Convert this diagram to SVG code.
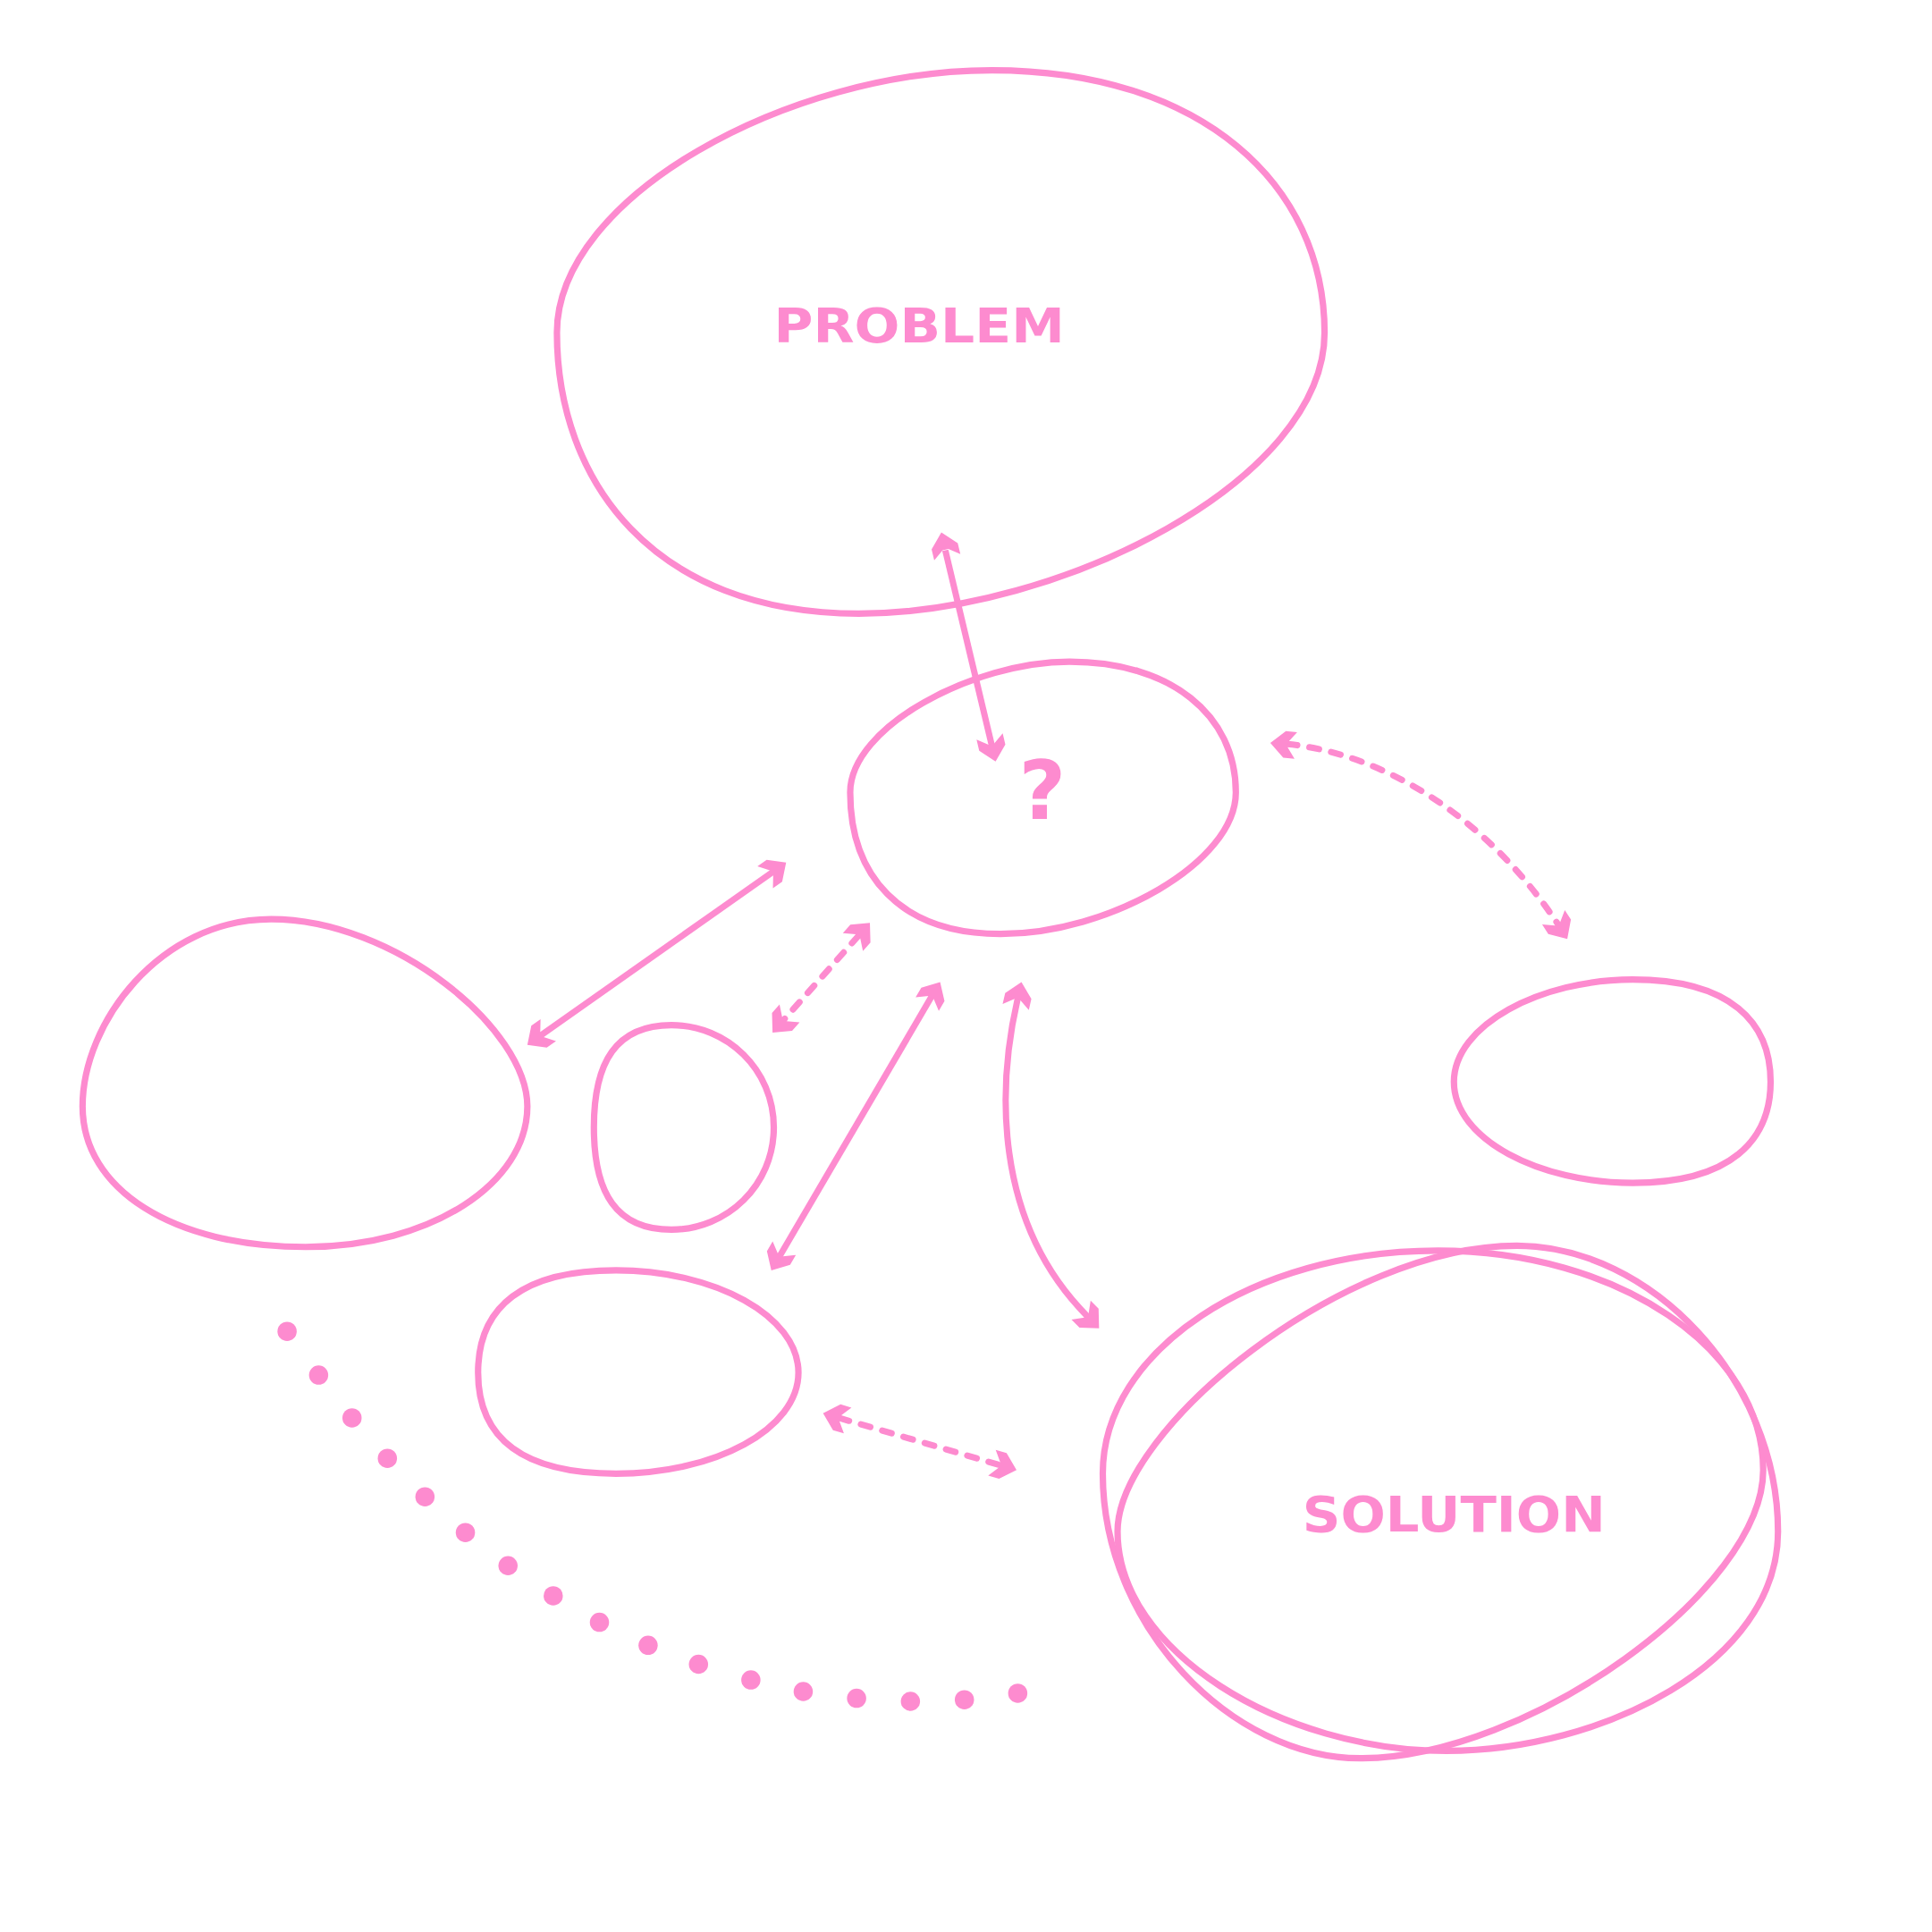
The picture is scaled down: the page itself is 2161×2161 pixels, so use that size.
<svg xmlns="http://www.w3.org/2000/svg" xmlns:xlink="http://www.w3.org/1999/xlink" width="2161" height="2161" viewBox="0 0 2161 2161">
<defs>
<style>
.blob{fill:none;stroke:#FD8BCF;stroke-width:5.2;stroke-linejoin:round}
.conn{fill:none;stroke:#FD8BCF;stroke-width:5.1}
.dash{stroke-dasharray:8 10;stroke-linecap:round}
.lbl{font-family:"DejaVu Sans","Liberation Sans",Arial,sans-serif;font-weight:bold;fill:#FD8BCF;text-anchor:middle}
.dot{fill:#FD8BCF}
.head{fill:#FD8BCF}
</style>
<path id="ah" class="head" d="M0,0 L-11.6,-10.9 L-20.8,-10.9 L-14.5,-2.4 L-14.5,2.4 L-20.8,10.9 L-11.6,10.9 Z"/>
</defs>
<rect width="2161" height="2161" fill="#ffffff"/>
<g transform="scale(1.37819)">
<g id="node-problem">
<path class="blob" d="M452,270 C452,160 640,57 805,57 C975,57 1075,150 1075,270 C1075,390 860,498 697,498 C530,498 452,390 452,270 Z"/>
<text class="lbl" x="746" y="278" font-size="39" textLength="236" lengthAdjust="spacingAndGlyphs">PROBLEM</text>
</g>
<g id="node-question">
<path class="blob" d="M690,643 C690,590 790,537 868,537 C950,537 1003,580 1003,643 C1003,700 900,758 812,758 C730,758 690,710 690,643 Z"/>
<text class="lbl" x="846" y="665" font-size="66">?</text>
</g>
<g id="node-left">
<path class="blob" d="M67,898 C67,830 130,746 220,746 C320,746 428,835 428,898 C428,960 350,1012 248,1012 C140,1012 67,965 67,898 Z"/>
</g>
<g id="node-small">
<path class="blob" d="M482,915 C482,862 500,832 545,832 C590,832 628,868 628,915 C628,962 590,998 545,998 C500,998 482,968 482,915 Z"/>
</g>
<g id="node-right">
<path class="blob" d="M1180,878 C1180,832 1250,795 1325,795 C1405,795 1437,830 1437,878 C1437,925 1405,960 1325,960 C1250,960 1180,925 1180,878 Z"/>
</g>
<g id="node-mid">
<path class="blob" d="M388,1114 C388,1060 425,1031 500,1031 C580,1031 648,1068 648,1114 C648,1160 580,1196 500,1196 C425,1196 388,1168 388,1114 Z"/>
</g>
<g id="node-solution">
<path class="blob" d="M895,1196 C895,1096 1017,1015 1167,1015 C1313,1015 1431,1095 1431,1193 C1431,1290 1240,1427 1104,1427 C1000,1427 895,1320 895,1196 Z"/>
<path class="blob" d="M1231,1011 C1340,1011 1443,1120 1443,1243 C1443,1350 1300,1421 1174,1421 C1040,1421 907,1340 907,1243 C907,1160 1090,1011 1231,1011 Z"/>
<text class="lbl" x="1180" y="1243" font-size="40" textLength="246" lengthAdjust="spacingAndGlyphs">SOLUTION</text>
</g>
<g id="connectors">
<g id="conn-problem-question">
<path class="conn" d="M767.2,446.6 L804.8,604.4"/>
<use href="#ah" xlink:href="#ah" transform="translate(764,432) rotate(-103.4)"/>
<use href="#ah" xlink:href="#ah" transform="translate(808,618) rotate(76.6)"/>
</g>
<g id="conn-question-right">
<path class="conn dash" d="M1044.9,603.9 C1125,612 1208,665 1264.5,750.2"/>
<use href="#ah" xlink:href="#ah" transform="translate(1031,603) rotate(185.7)"/>
<use href="#ah" xlink:href="#ah" transform="translate(1272,762) rotate(57.4)"/>
</g>
<g id="conn-question-left">
<path class="conn" d="M626.6,708.1 L439.4,839.9"/>
<use href="#ah" xlink:href="#ah" transform="translate(638,700) rotate(-35.2)"/>
<use href="#ah" xlink:href="#ah" transform="translate(428,848) rotate(144.8)"/>
</g>
<g id="conn-question-small">
<path class="conn dash" d="M696.7,759.5 L636.3,827.5"/>
<use href="#ah" xlink:href="#ah" transform="translate(706,749) rotate(-48.4)"/>
<use href="#ah" xlink:href="#ah" transform="translate(627,838) rotate(131.6)"/>
</g>
<g id="conn-question-mid">
<path class="conn" d="M755.9,809.1 L633.1,1018.9"/>
<use href="#ah" xlink:href="#ah" transform="translate(763,797) rotate(-59.7)"/>
<use href="#ah" xlink:href="#ah" transform="translate(626,1031) rotate(120.3)"/>
</g>
<g id="conn-question-solution">
<path class="conn" d="M825.9,810.7 C810,880 805,990 882.2,1068"/>
<use href="#ah" xlink:href="#ah" transform="translate(829,797) rotate(-77.1)"/>
<use href="#ah" xlink:href="#ah" transform="translate(892,1078) rotate(45.3)"/>
</g>
<g id="conn-mid-solution">
<path class="conn dash" d="M681.4,1150.9 L811.6,1189.1"/>
<use href="#ah" xlink:href="#ah" transform="translate(668,1147) rotate(196.3)"/>
<use href="#ah" xlink:href="#ah" transform="translate(825,1193) rotate(16.3)"/>
</g>
<g id="dotted-path">
<circle class="dot" cx="233" cy="1080.5" r="7.8"/>
<circle class="dot" cx="258.6" cy="1116" r="7.8"/>
<circle class="dot" cx="285.7" cy="1150.7" r="7.8"/>
<circle class="dot" cx="314.4" cy="1183.6" r="7.8"/>
<circle class="dot" cx="344.9" cy="1214.8" r="7.8"/>
<circle class="dot" cx="377.7" cy="1243.8" r="7.8"/>
<circle class="dot" cx="412.3" cy="1270.7" r="7.8"/>
<circle class="dot" cx="449" cy="1295.1" r="7.8"/>
<circle class="dot" cx="486.5" cy="1316.6" r="7.8"/>
<circle class="dot" cx="526" cy="1335.3" r="7.8"/>
<circle class="dot" cx="566.9" cy="1350.7" r="7.8"/>
<circle class="dot" cx="609.4" cy="1363.4" r="7.8"/>
<circle class="dot" cx="651.9" cy="1372.8" r="7.8"/>
<circle class="dot" cx="695.2" cy="1378.3" r="7.8"/>
<circle class="dot" cx="738.9" cy="1380.8" r="7.8"/>
<circle class="dot" cx="782.7" cy="1379.5" r="7.8"/>
<circle class="dot" cx="826" cy="1374.2" r="7.8"/>
</g>
</g>
</g>
</svg>
